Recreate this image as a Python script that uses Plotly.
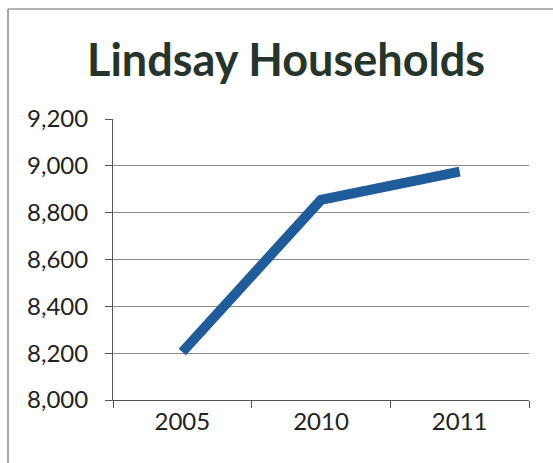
import plotly.graph_objects as go

years = ["2005", "2010", "2011"]
households = [8205, 8855, 8975]
y_ticks = [8000, 8200, 8400, 8600, 8800, 9000, 9200]
y_labels = ["8,000", "8,200", "8,400", "8,600", "8,800", "9,000", "9,200"]

W, H = 553, 463
L, R, T, B = 113, 24, 119, 63
pw, ph = W - L - R, H - T - B

def px2x(px):
    return (px - L) / pw

def py2y(py):
    return (H - B - py) / ph

fig = go.Figure()
fig.add_trace(go.Scatter(
    x=years, y=households, mode="lines",
    line=dict(color="#1f5c9c", width=10),
    hoverinfo="skip",
))

font_fam = "Lato, 'Open Sans', sans-serif"
fig.update_layout(
    width=W, height=H,
    margin=dict(l=L, r=R, t=T, b=B),
    paper_bgcolor="white", plot_bgcolor="white",
    showlegend=False,
    title=dict(text="<b>Lindsay Households</b>", x=286 / W, xanchor="center",
               y=1 - 60 / H, yanchor="middle", yref="container",
               font=dict(family=font_fam, size=45, color="#26352c")),
    xaxis=dict(type="category", tickson="boundaries", ticks="outside", ticklen=7,
               tickcolor="#555", showline=True, linecolor="#555", linewidth=1,
               showgrid=False, tickfont=dict(family=font_fam, size=24, color="#222"),
               range=[-0.5, 2.5]),
    yaxis=dict(range=[8000, 9200], tickvals=y_ticks, ticktext=y_labels,
               ticks="outside", ticklen=7, tickcolor="#555",
               showline=True, linecolor="#555", linewidth=1,
               showgrid=True, gridcolor="#8a8a8a", gridwidth=1,
               zeroline=False, ticklabelstandoff=12,
               tickfont=dict(family=font_fam, size=24, color="#222")),
    shapes=[
        dict(type="line", xref="paper", yref="paper",
             x0=px2x(8), x1=px2x(8), y0=py2y(9), y1=py2y(470),
             line=dict(color="#8a8a8a", width=1.5)),
        dict(type="line", xref="paper", yref="paper",
             x0=px2x(8), x1=px2x(560), y0=py2y(9), y1=py2y(9),
             line=dict(color="#9a9a9a", width=1.5)),
    ],
)

fig.write_html("out.html")
